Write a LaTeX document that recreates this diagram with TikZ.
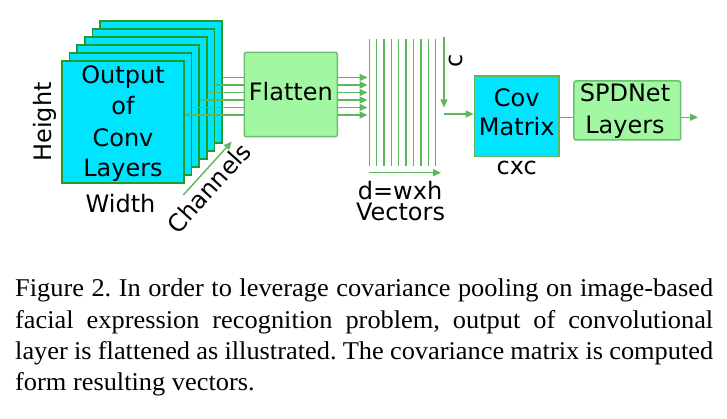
\documentclass[tikz,border=0pt]{standalone}
\usepackage{fontspec}
\setmainfont{Liberation Serif}[FakeStretch=1.03]
\newfontfamily\dejavu{DejaVu Sans}
\usetikzlibrary{arrows.meta,calc}
\definecolor{cyanfill}{HTML}{00E5FF}
\definecolor{darkgr}{HTML}{259B25}
\definecolor{midgr}{HTML}{5CB85C}
\definecolor{boxgr}{HTML}{6CC06C}
\definecolor{lightgr}{HTML}{A2F8A2}
\frenchspacing
\begin{document}
\begin{tikzpicture}[x=1pt,y=-1pt,
  lbl/.style={font=\dejavu\fontsize{24}{30}\selectfont, inner sep=0pt, anchor=base, text=black},
  convsq/.style={draw=darkgr, fill=cyanfill, line width=1.5pt, minimum size=122pt, inner sep=0pt},
  covbox/.style={draw=midgr, fill=cyanfill, line width=1.5pt, inner sep=0pt},
  greenbox/.style={draw=boxgr, fill=lightgr, line width=1.5pt, rounded corners=2pt, inner sep=0pt},
  conn/.style={draw=midgr, line width=1.4pt},
  arr/.style={conn, -{Triangle[length=8pt,width=7pt]}},
  captxt/.style={anchor=base west, inner sep=0pt, font=\fontsize{25.6}{31.5}\selectfont}
]
\useasboundingbox (0,0) rectangle (727,419);
\fill[white] (0,0) rectangle (727,419);

% stacked feature maps
\foreach \k in {5,4,3,2,1,0}
  \node[convsq] (sq\k) at ({123+7.6*\k},{122-8*\k}) {};
\node[lbl] (t1) at (123,83.3) {Output};
\node[lbl] (t2) at (123,115) {of};
\node[lbl] (t3) at (123,146.7) {Conv};
\node[lbl] (t4) at (123,176.7) {Layers};
\node[lbl, rotate=90] (hgt) at (51.5,122) {Height};
\node[lbl] (wid) at (120.5,212.3) {Width};

% channels
\coordinate (chs) at (183.3,195);
\coordinate (che) at (231.7,141.7);
\draw[arr] (chs) -- (che);
\node[lbl, anchor=center, rotate=48] (chl) at (209,188) {Channels};

% flatten
\node[greenbox, minimum width=93pt, minimum height=84.4pt] (flat) at (290.8,94.5) {};
\node[lbl] (flt) at (290.8,101) {Flatten};

\foreach \k in {0,...,5} {
  \pgfmathsetmacro\yy{115-7.5*\k}
  \draw[conn] (sq\k.east |- 0,\yy) -- (flat.west |- 0,\yy);
}

% vectors
\coordinate (vleft) at (367.5,0);
\foreach \k in {0,...,5} {
  \pgfmathsetmacro\yy{115-7.5*\k}
  \draw[arr] (flat.east |- 0,\yy) -- (vleft |- 0,\yy);
}
\foreach \i in {0,...,9}
  \draw[conn] ({369.3+7.37*\i},39.3) -- ({369.3+7.37*\i},165.7);
\coordinate (ds) at (369.3,172.7);
\coordinate (de) at (441,172.7);
\draw[arr] (ds) -- (de);
\node[lbl] (dl) at (400,200) {d=wxh};
\node[lbl] (vl) at (400.5,220.5) {Vectors};

% c arrow
\coordinate (ctop) at (444,37.3);
\coordinate (cbot) at (444,107.5);
\draw[arr] (ctop) -- (cbot);
\node[lbl, rotate=90] (cl) at (462,60.5) {c};

% covariance matrix
\node[covbox, minimum width=84.7pt, minimum height=80.7pt] (cov) at (516.7,116.4) {};
\node[lbl] (ct1) at (516.7,106.7) {Cov};
\node[lbl] (ct2) at (516.7,136) {Matrix};
\node[lbl] (cxc) at (516.7,175) {cxc};
\coordinate (cin) at (444,114);
\draw[arr] (cin) -- (cov.west |- cin);

% SPDNet
\node[greenbox, minimum width=106.7pt, minimum height=59pt] (spd) at (627.3,110.5) {};
\node[lbl] (st1) at (625,101.7) {SPDNet};
\node[lbl] (st2) at (625,133.3) {Layers};
\draw[conn] (cov.east |- 0,117.3) -- (spd.west |- 0,117.3);
\coordinate (outp) at (698,117.3);
\draw[arr] (spd.east |- outp) -- (outp);

% caption
\node[captxt] (cap1) at (15,296.5) {\makebox[698pt][s]{Figure 2. In order to leverage covariance pooling on image-based}};
\node[captxt] (cap2) at (15,328) {\makebox[698pt][s]{facial expression recognition problem, output of convolutional}};
\node[captxt] (cap3) at (15,359.5) {\makebox[698pt][s]{layer is flattened as illustrated. The covariance matrix is computed}};
\node[captxt] (cap4) at (15,390.5) {form resulting vectors.};
\end{tikzpicture}
\end{document}
